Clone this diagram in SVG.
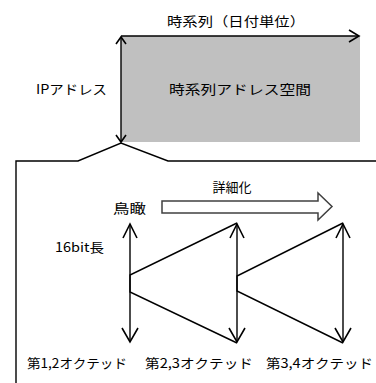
<svg xmlns="http://www.w3.org/2000/svg" width="376" height="383" viewBox="0 0 376 383">
<style>
text{font-family:"Noto Sans CJK JP","Liberation Sans",sans-serif;font-size:13px;fill:#000}
.ln{stroke:#000;stroke-width:1.4;fill:none}
.ah{stroke:#000;stroke-width:1.6;fill:none;stroke-linejoin:miter}
</style>
<rect width="376" height="383" fill="#fff"/>
<g id="space">
<rect x="121" y="36" width="239" height="106" fill="#c0c0c0"/>
<text x="240" y="94" text-anchor="middle" textLength="142" lengthAdjust="spacingAndGlyphs">時系列アドレス空間</text>
</g>
<g id="labels">
<text x="236" y="26" text-anchor="middle" textLength="138" lengthAdjust="spacingAndGlyphs">時系列（日付単位）</text>
<text x="36" y="94" textLength="71" lengthAdjust="spacingAndGlyphs">IPアドレス</text>
<text x="232" y="192" text-anchor="middle">詳細化</text>
<text x="113" y="213" textLength="33" lengthAdjust="spacingAndGlyphs">鳥瞰</text>
<text x="55" y="252" textLength="49" lengthAdjust="spacingAndGlyphs">16bit長</text>
<text x="27" y="368" textLength="100" lengthAdjust="spacingAndGlyphs">第1,2オクテッド</text>
<text x="145" y="368" textLength="108" lengthAdjust="spacingAndGlyphs">第2,3オクテッド</text>
<text x="266" y="368" textLength="107" lengthAdjust="spacingAndGlyphs">第3,4オクテッド</text>
</g>
<g id="connectors">
<line class="ln" x1="121" y1="36" x2="359" y2="36"/>
<polyline class="ah" points="349,30 359,36 349,42"/>
<line class="ln" x1="121" y1="37" x2="121" y2="142"/>
<polyline class="ah" points="116,44 121,37 126,44"/>
<polyline class="ah" points="116,135 121,142 126,135"/>
<polyline class="ln" points="16,383 16,161 78,161 121,143 168,161 376,161"/>
<polygon points="162,201 318,201 318,193 332,206.5 318,220 318,213 162,213" fill="#fff" stroke="#404040" stroke-width="1.5"/>
<line class="ln" x1="130" y1="224" x2="130" y2="342"/>
<line class="ln" x1="237" y1="224" x2="237" y2="342"/>
<line class="ln" x1="343" y1="224" x2="343" y2="342"/>
<polyline class="ah" points="123,238 130,224 137,238"/>
<polyline class="ah" points="230,238 237,224 244,238"/>
<polyline class="ah" points="336,238 343,224 350,238"/>
<polyline class="ah" points="122,328 130,342 138,328"/>
<polyline class="ah" points="229,328 237,342 245,328"/>
<polyline class="ah" points="335,328 343,342 351,328"/>
<polyline class="ln" points="237,223 130,275 130,292 237,343"/>
<polyline class="ln" points="343,223 237,276 237,291 343,343"/>
</g>
</svg>
